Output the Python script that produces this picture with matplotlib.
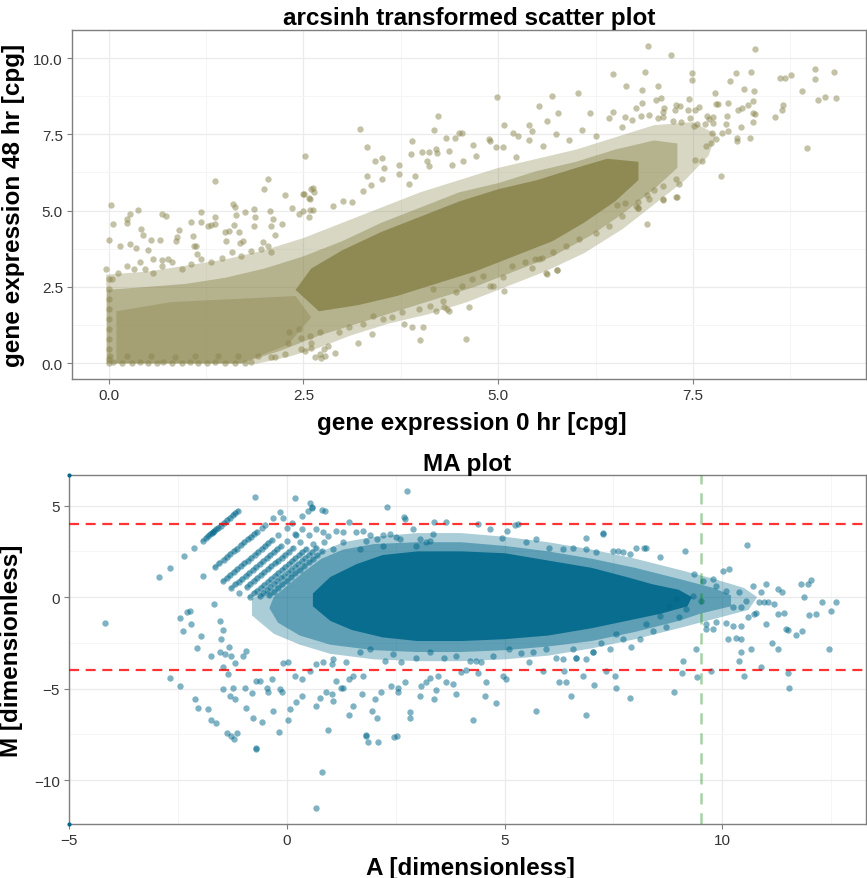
import numpy as np
import matplotlib
matplotlib.use('Agg')
import matplotlib.pyplot as plt
from matplotlib.patches import Polygon
from matplotlib.ticker import MultipleLocator, FormatStrFormatter

plt.rcParams['font.family'] = ['Liberation Sans', 'DejaVu Sans']

KHAKI4 = '#8B864E'
SKY4 = '#00688B'

# ---------------- top panel: arcsinh expression, 0 hr vs 48 hr ----------------
# outlines of the overplotted parts of the cloud (outer halo, dense band, solid core)
top_outer = [(-0.03, -0.02), (1.9, -0.02), (2.3, 0.2), (2.7, 0.5), (3.1, 0.9), (3.6, 1.3),
             (4.1, 1.6), (4.6, 2.0), (5.1, 2.5), (5.6, 3.0), (6.1, 3.6), (6.6, 4.4),
             (7.0, 5.2), (7.4, 6.0), (7.7, 6.8), (7.8, 7.5), (7.5, 7.9), (7.0, 7.8),
             (6.5, 7.4), (6.0, 7.0), (5.5, 6.7), (5.0, 6.4), (4.5, 6.0), (4.0, 5.6),
             (3.5, 5.1), (3.0, 4.6), (2.5, 4.1), (2.0, 3.7), (1.5, 3.4), (1.0, 3.2),
             (0.5, 3.0), (-0.03, 2.9)]
top_band = [(-0.02, -0.01), (1.7, -0.01), (2.2, 0.4), (2.7, 0.9), (3.2, 1.3), (3.7, 1.7),
            (4.2, 2.1), (4.7, 2.5), (5.2, 3.0), (5.7, 3.5), (6.2, 4.2), (6.6, 4.9),
            (7.0, 5.7), (7.3, 6.4), (7.3, 7.2), (7.0, 7.3), (6.5, 7.0), (6.0, 6.6),
            (5.5, 6.3), (5.0, 5.9), (4.5, 5.6), (4.0, 5.1), (3.5, 4.6), (3.0, 4.0),
            (2.5, 3.5), (2.0, 3.1), (1.5, 2.8), (1.0, 2.6), (0.5, 2.5), (-0.02, 2.4)]
top_core = [(2.7, 1.7), (3.2, 1.9), (3.7, 2.2), (4.2, 2.6), (4.7, 3.0), (5.2, 3.5),
            (5.7, 4.0), (6.1, 4.6), (6.5, 5.3), (6.8, 6.0), (6.8, 6.6), (6.4, 6.7),
            (6.0, 6.4), (5.5, 6.0), (5.0, 5.7), (4.5, 5.3), (4.0, 4.8), (3.5, 4.3),
            (3.0, 3.7), (2.6, 3.1), (2.4, 2.4)]
top_left_patch = [(0.1, 0.0), (1.7, 0.0), (2.3, 0.6), (2.6, 1.5), (2.4, 2.2),
                  (1.6, 2.1), (0.8, 2.0), (0.1, 1.7)]

# single points (x = 0 hr, y = 48 hr)
top_pts_bottom_left = [
    (0.00, 0.02), (0.06, 0.03), (0.17, 0.02), (0.30, 0.01), (0.40, 0.03), (0.51, 0.02),
    (0.62, 0.01), (0.70, 0.03), (0.81, 0.02), (0.94, 0.01), (1.04, 0.03), (1.15, 0.02),
    (1.26, 0.01), (1.36, 0.03), (1.49, 0.02), (1.62, 0.02), (1.75, 0.01), (1.83, 0.03),
    (0.02, 0.23), (0.23, 0.22), (0.55, 0.24), (0.85, 0.21), (1.11, 0.23), (1.41, 0.25),
    (1.66, 0.22), (1.92, 0.23), (2.09, 0.21), (2.13, 0.19), (2.26, 0.30), (2.52, 0.40),
    (2.65, 0.19), (2.71, 0.30), (2.77, 0.45), (2.60, 0.67), (2.47, 0.84), (2.30, 0.67),
    (0.00, 2.75), (0.01, 2.43), (0.00, 2.10), (0.01, 1.77), (0.00, 1.44), (0.01, 1.11),
    (0.00, 0.79), (0.01, 0.46), (0.00, 0.13)]
top_pts_upper_left = [
    (0.03, 5.17), (0.00, 4.03), (0.06, 4.56), (0.27, 4.89), (0.38, 5.03), (0.23, 4.72),
    (0.24, 4.59), (0.42, 4.39), (0.44, 4.20), (0.15, 3.84), (0.28, 3.89), (0.35, 3.78),
    (0.54, 4.03), (0.66, 4.03), (0.68, 4.90), (0.74, 4.82), (0.51, 3.70), (0.57, 3.42),
    (0.69, 3.39), (0.76, 3.40), (0.91, 4.38), (0.88, 4.12), (0.87, 4.02), (1.06, 4.64),
    (1.08, 4.18), (1.18, 4.97), (1.18, 4.63), (1.27, 4.50), (1.37, 5.98), (1.36, 4.80),
    (1.36, 4.56), (1.31, 4.54), (1.09, 3.84), (1.12, 3.85), (1.13, 3.57), (1.60, 5.21),
    (1.62, 5.12), (1.75, 4.97), (1.87, 5.04), (1.63, 4.85), (1.50, 4.31), (1.54, 4.33),
    (1.61, 4.52), (1.68, 4.31), (1.69, 3.95), (1.73, 4.02), (1.51, 4.00), (1.99, 5.72),
    (2.04, 6.02), (2.26, 5.52), (2.07, 4.98), (2.09, 4.48), (2.11, 4.71), (1.88, 4.78),
    (1.86, 4.48), (2.36, 5.09), (2.50, 5.56), (2.60, 5.72), (2.63, 5.62), (2.58, 5.38),
    (2.59, 5.02), (2.57, 4.80), (2.22, 4.56), (2.13, 4.20), (2.05, 3.85), (1.98, 3.98),
    (2.44, 4.90), (2.50, 4.99), (2.62, 5.02),
    (-0.03, 3.08), (0.04, 2.75), (0.12, 2.97), (0.23, 3.19), (0.32, 3.08), (0.40, 3.30),
    (0.47, 3.08), (0.57, 2.97), (0.68, 3.19), (0.81, 3.30), (0.94, 3.08), (1.06, 3.25),
    (1.19, 3.41), (1.32, 3.30), (1.45, 3.46), (1.58, 3.63), (1.70, 3.52), (1.83, 3.69),
    (1.96, 3.74), (2.09, 3.63)]
top_pts_upper_mid = [
    (3.23, 7.69), (2.52, 6.80), (4.23, 8.09), (4.17, 7.64), (4.99, 8.73), (5.69, 8.77),
    (5.52, 8.43), (5.77, 8.20), (5.63, 7.93), (5.08, 7.80), (5.19, 7.55), (5.26, 7.45),
    (5.39, 7.80), (5.43, 7.61), (3.32, 7.08), (3.42, 6.63), (3.51, 6.73), (3.54, 6.40),
    (3.90, 7.27), (3.88, 6.87), (4.02, 6.93), (4.11, 6.93), (4.21, 6.90), (4.33, 7.38),
    (4.45, 7.38), (4.50, 7.56), (4.68, 7.16), (4.90, 7.29), (4.97, 7.07), (3.73, 6.49),
    (3.73, 6.20), (3.93, 6.15), (3.86, 5.87), (4.09, 6.63), (4.11, 6.45), (4.41, 6.48),
    (4.55, 6.63), (3.32, 6.12), (3.51, 6.03), (3.37, 5.84), (3.26, 5.65), (2.62, 5.75),
    (2.57, 5.40), (2.51, 5.55), (2.88, 5.16), (3.01, 5.33), (3.13, 5.27),
    (4.20, 7.02), (4.37, 6.95), (4.54, 7.56), (4.71, 6.78), (4.88, 7.36), (5.06, 7.10),
    (5.23, 6.76), (5.40, 7.30), (5.57, 7.11), (5.74, 7.52), (5.91, 7.33), (6.08, 7.64),
    (6.25, 7.43), (6.42, 8.05), (6.59, 7.73), (6.77, 8.36), (6.94, 8.14), (7.11, 8.06),
    (7.28, 8.46), (7.45, 8.66)]
top_pts_upper_right = [
    (6.92, 10.40), (7.22, 10.10), (8.29, 10.31), (6.47, 9.49), (6.89, 9.56), (7.49, 9.50),
    (7.49, 9.28), (8.05, 9.50), (8.24, 9.54), (7.98, 9.25), (8.62, 9.36), (8.68, 9.34),
    (8.76, 9.44), (9.06, 9.63), (9.06, 9.31), (9.31, 9.53), (8.90, 8.92), (9.10, 8.62),
    (9.20, 8.72), (9.33, 8.70), (8.96, 7.04), (6.02, 8.84), (6.64, 9.07), (6.84, 8.94),
    (7.05, 9.07), (6.84, 8.52), (7.03, 8.61), (7.09, 8.69), (7.78, 8.85), (7.79, 8.49),
    (7.82, 8.49), (7.95, 8.54), (8.16, 8.98), (8.28, 8.92), (8.27, 8.59), (8.08, 8.30),
    (8.13, 8.37), (8.21, 8.45), (8.27, 8.19), (8.30, 8.16), (8.27, 7.92), (8.55, 8.06),
    (8.64, 8.31), (8.66, 8.45), (7.94, 8.10), (7.92, 7.83), (8.12, 7.74), (8.23, 7.38),
    (8.06, 7.38), (8.06, 7.29), (7.86, 6.14), (7.79, 7.34), (7.87, 7.56), (7.95, 7.62),
    (7.75, 7.56), (7.62, 6.61), (7.52, 6.67), (7.29, 5.45), (7.12, 5.36), (7.32, 5.86),
    (6.91, 4.55), (6.91, 5.52), (7.00, 5.66), (6.79, 5.28), (6.79, 5.09), (6.63, 5.24),
    (6.53, 5.18), (6.18, 8.19), (6.47, 8.22), (6.63, 8.07), (6.72, 7.97), (6.83, 8.10),
    (7.05, 8.05), (7.13, 8.38), (7.12, 8.22), (7.25, 7.93), (7.35, 7.92), (7.46, 8.05),
    (7.27, 8.31), (7.33, 8.44), (7.43, 8.31), (7.53, 8.29), (7.58, 8.39), (7.55, 7.83),
    (7.51, 7.77), (7.68, 8.10), (7.71, 7.99), (7.76, 8.06), (7.66, 7.85), (7.76, 7.88),
    (7.67, 7.11), (7.73, 7.21)]
top_pts_lower = [
    (3.20, 0.66), (3.38, 0.97), (3.79, 1.27), (4.03, 1.17), (4.00, 0.77), (2.72, 0.16),
    (2.78, 0.24), (2.90, 0.33), (2.47, 0.47), (2.60, 0.48), (4.59, 0.79), (4.62, 1.83),
    (4.34, 1.77), (4.31, 1.83), (4.90, 2.53), (5.08, 2.35), (5.63, 2.92), (5.75, 3.04),
    (5.44, 3.11), (6.80, 5.08), (7.12, 5.38), (7.28, 5.45), (5.62, 2.96), (5.76, 3.05),
    (5.47, 3.41), (5.56, 3.46), (2.32, 1.01), (2.45, 1.11), (2.58, 0.90), (2.71, 1.01),
    (2.81, 0.57), (2.96, 1.01), (3.09, 1.17), (3.26, 1.28), (3.39, 1.55), (3.52, 1.44),
    (3.64, 1.50), (3.77, 1.66), (3.90, 1.17), (3.99, 1.77), (4.12, 1.88), (4.20, 1.71),
    (4.16, 2.43), (4.29, 2.04), (4.37, 1.71), (4.46, 2.32), (4.54, 2.53), (4.67, 2.75),
    (4.80, 2.86), (4.93, 2.53), (5.06, 2.81), (5.18, 3.19), (5.35, 3.30), (5.53, 3.41),
    (5.70, 3.63), (5.87, 3.85), (6.04, 4.07), (6.25, 4.28), (6.42, 4.50), (6.59, 4.83),
    (6.77, 5.16), (6.94, 5.38), (7.11, 5.81), (7.28, 6.03)]

top_xticks = [0.0, 2.5, 5.0, 7.5]
top_yticks = [0.0, 2.5, 5.0, 7.5, 10.0]

# ---------------- bottom panel: MA plot ----------------
ma_outer = [(-0.8, -0.1), (-0.3, 0.5), (0.0, 1.0), (0.4, 1.8), (0.8, 2.5), (1.3, 3.0),
            (2.0, 3.3), (3.0, 3.5), (4.0, 3.5), (5.0, 3.3), (6.0, 3.0), (7.0, 2.6),
            (8.0, 2.1), (9.0, 1.5), (9.8, 1.0), (10.5, 0.5), (10.8, 0.0), (10.6, -0.7),
            (9.8, -1.2), (9.0, -1.7), (8.0, -2.3), (7.0, -2.8), (6.0, -3.2), (5.0, -3.4),
            (4.0, -3.5), (3.0, -3.5), (2.0, -3.4), (1.0, -3.1), (0.3, -2.6), (-0.3, -2.0),
            (-0.8, -1.0)]
ma_band = [(-0.3, 0.0), (0.0, 0.6), (0.4, 1.4), (0.8, 2.1), (1.3, 2.6), (2.0, 2.9),
           (3.0, 3.0), (4.0, 3.0), (5.0, 2.8), (6.0, 2.5), (7.0, 2.1), (8.0, 1.6),
           (9.0, 1.0), (9.8, 0.5), (10.2, 0.1), (10.2, -0.5), (9.5, -0.9), (9.0, -1.3),
           (8.0, -1.9), (7.0, -2.4), (6.0, -2.7), (5.0, -2.9), (4.0, -3.0), (3.0, -3.0),
           (2.0, -2.9), (1.0, -2.6), (0.3, -2.1), (-0.2, -1.4), (-0.4, -0.6)]
ma_core = [(0.6, 0.2), (1.0, 1.1), (1.6, 1.8), (2.2, 2.3), (3.0, 2.5), (4.0, 2.5),
           (5.0, 2.4), (6.0, 2.0), (7.0, 1.6), (7.8, 1.1), (8.4, 0.7), (9.0, 0.4),
           (9.3, 0.0), (9.2, -0.5), (8.6, -0.9), (7.8, -1.3), (7.0, -1.7), (6.0, -2.1),
           (5.0, -2.3), (4.0, -2.4), (3.0, -2.4), (2.2, -2.2), (1.5, -1.8), (1.0, -1.3),
           (0.6, -0.5)]

# low-count streaks in the upper left (A, M): runs of overlapping points
ma_streak_1 = [(-1.93, 3.09), (-1.85, 3.25), (-1.80, 3.35), (-1.76, 3.43), (-1.72, 3.51),
               (-1.69, 3.57), (-1.66, 3.63), (-1.62, 3.71), (-1.58, 3.79), (-1.52, 3.91),
               (-1.45, 4.05), (-1.38, 4.19), (-1.30, 4.35), (-1.24, 4.47), (-1.18, 4.59),
               (-1.12, 4.71)]
ma_streak_2 = [(-1.65, 1.65), (-1.55, 1.85), (-1.45, 2.05), (-1.38, 2.19), (-1.30, 2.35),
               (-1.22, 2.51), (-1.15, 2.65), (-1.06, 2.83), (-0.98, 2.99), (-0.90, 3.15),
               (-0.82, 3.31), (-0.75, 3.45), (-0.69, 3.57)]
ma_streak_3 = [(-1.46, 0.88), (-1.38, 1.04), (-1.30, 1.20), (-1.22, 1.36), (-1.14, 1.52),
               (-1.06, 1.68), (-0.98, 1.84), (-0.90, 2.00), (-0.82, 2.16), (-0.74, 2.32),
               (-0.66, 2.48), (-0.58, 2.64), (-0.50, 2.80), (-0.42, 2.96), (-0.35, 3.10)]
ma_streak_4 = [(-1.27, 0.51), (-1.18, 0.69), (-1.10, 0.85), (-1.02, 1.01), (-0.94, 1.17),
               (-0.86, 1.33), (-0.78, 1.49), (-0.70, 1.65), (-0.62, 1.81), (-0.54, 1.97),
               (-0.46, 2.13), (-0.38, 2.29), (-0.30, 2.45), (-0.22, 2.61), (-0.14, 2.77)]
ma_streak_5 = [(-0.92, 0.56), (-0.84, 0.72), (-0.76, 0.88), (-0.68, 1.04), (-0.60, 1.20),
               (-0.52, 1.36), (-0.44, 1.52), (-0.36, 1.68), (-0.28, 1.84), (-0.20, 2.00),
               (-0.12, 2.16), (-0.04, 2.32), (0.04, 2.48), (0.14, 2.68)]
ma_streak_6 = [(-0.85, 0.02), (-0.76, 0.20), (-0.68, 0.36), (-0.60, 0.52), (-0.52, 0.68),
               (-0.44, 0.84), (-0.36, 1.00), (-0.28, 1.16), (-0.20, 1.32), (-0.12, 1.48),
               (-0.04, 1.64), (0.04, 1.80), (0.12, 1.96), (0.20, 2.12), (0.28, 2.28),
               (0.36, 2.44), (0.45, 2.62)]
ma_streak_7 = [(-0.62, 0.06), (-0.54, 0.22), (-0.46, 0.38), (-0.38, 0.54), (-0.30, 0.70),
               (-0.22, 0.86), (-0.14, 1.02), (-0.06, 1.18), (0.02, 1.34), (0.10, 1.50),
               (0.18, 1.66), (0.26, 1.82), (0.34, 1.98), (0.42, 2.14), (0.50, 2.30),
               (0.58, 2.46), (0.68, 2.66)]
ma_streak_8 = [(-0.40, 0.10), (-0.30, 0.30), (-0.20, 0.50), (-0.10, 0.70), (0.00, 0.90),
               (0.10, 1.10), (0.20, 1.30), (0.30, 1.50), (0.40, 1.70), (0.50, 1.90),
               (0.60, 2.10), (0.70, 2.30), (0.80, 2.50)]

ma_pts_streak_ends = [
    (-2.94, 1.11), (-2.67, 1.60), (-2.35, 2.26), (-2.13, 2.71), (-0.73, 5.48),
    (-1.92, 1.15), (-0.58, 3.79), (-0.50, 3.95), (-0.31, 4.33), (-0.16, 4.63), (0.20, 5.39),
    (-0.20, 3.40), (0.00, 3.80), (0.12, 4.04), (0.00, 3.05), (0.20, 3.45), (0.34, 3.73),
    (-1.10, 0.20), (0.30, 3.00), (0.50, 3.40), (0.60, 2.92), (0.85, 3.00)]
ma_pts_upper = [
    (0.53, 5.17), (0.87, 4.68), (0.57, 4.86), (0.80, 4.77), (0.34, 4.44), (2.31, 4.93),
    (2.75, 5.81), (2.71, 4.26), (2.69, 4.39), (-0.08, 4.35), (0.22, 3.39), (0.49, 4.72),
    (0.59, 4.90), (0.68, 3.72), (0.83, 3.54), (0.95, 3.32), (1.14, 3.63), (1.29, 3.54),
    (1.44, 4.12), (1.60, 3.54), (1.75, 3.63), (1.90, 3.37), (2.06, 3.17), (2.21, 3.37),
    (2.36, 3.45), (2.51, 3.26), (2.90, 3.72), (3.05, 3.17), (3.20, 2.99), (3.36, 3.45),
    (1.06, 2.62), (1.29, 2.99), (1.67, 2.62), (1.83, 3.08), (2.21, 2.80), (2.59, 3.17),
    (2.97, 2.80), (3.28, 3.08), (3.39, 4.08), (3.66, 4.13), (4.39, 3.99), (4.66, 3.72),
    (4.93, 3.22), (5.06, 3.59), (5.31, 3.99), (5.23, 3.93), (7.26, 3.48), (7.60, 2.53),
    (8.02, 2.71), (8.25, 2.68), (8.56, 2.17), (9.15, 2.53), (5.50, 2.99), (5.73, 3.17),
    (6.03, 2.71), (6.34, 2.62), (6.57, 2.71), (6.87, 2.62), (7.10, 2.44), (7.48, 2.53),
    (7.71, 2.44), (10.57, 2.84), (8.21, 2.68), (7.89, 2.35), (6.86, 3.21), (7.27, 3.44)]
ma_pts_left = [
    (-4.17, -1.40), (-2.45, -1.16), (-2.28, -0.80), (-2.20, -1.48), (-1.66, -0.35),
    (-1.54, -1.29), (-1.46, -1.79), (-1.52, -2.31), (-1.33, -2.71), (-1.18, -3.62),
    (-2.67, -4.41), (-0.71, -8.32), (0.81, -9.55), (0.68, -11.55), (1.81, -7.54),
    (2.47, -7.63), (1.96, -6.21), (2.55, -5.21),
    (-2.22, -0.78), (-2.38, -1.84), (-1.96, -2.15), (-2.07, -2.80), (-1.75, -3.21),
    (-1.46, -3.84), (-1.35, -4.21), (-1.54, -3.02), (-1.42, -3.11), (-1.27, -3.24),
    (-1.00, -3.24), (-0.93, -2.93), (-0.70, -4.57), (-0.62, -4.61), (-0.35, -4.48),
    (-0.08, -3.61), (0.03, -3.57), (0.18, -4.30), (0.34, -4.48), (0.53, -4.03),
    (0.68, -3.66), (0.83, -3.57), (1.03, -3.66), (1.14, -4.57), (1.25, -4.94),
    (1.44, -4.48), (1.52, -4.30), (1.75, -4.33),
    (-2.45, -4.88), (-2.11, -5.57), (-2.03, -6.07), (-1.80, -6.12), (-1.73, -6.70),
    (-1.63, -6.90), (-1.38, -7.40), (-1.29, -7.58), (-1.21, -7.76), (-1.15, -7.43),
    (-1.46, -5.03), (-1.31, -5.39), (-1.19, -5.57), (-1.23, -4.99), (-0.96, -4.99),
    (-0.81, -5.25), (-0.94, -6.08), (-0.77, -6.63), (-0.56, -6.85), (-0.43, -5.21),
    (-0.45, -4.99), (-0.19, -7.36), (-0.70, -8.27), (-0.16, -5.03), (-0.12, -5.17),
    (-0.31, -6.21), (0.07, -6.12), (0.03, -6.70), (0.22, -5.72), (0.36, -5.43),
    (0.68, -5.97), (0.76, -5.50), (0.95, -7.25), (0.91, -5.17), (1.03, -5.30),
    (1.06, -5.66), (1.29, -4.99), (1.43, -6.45), (1.51, -5.94), (1.73, -5.30),
    (2.02, -5.57), (1.83, -7.58), (1.87, -7.91), (2.10, -7.91), (2.06, -6.58)]
ma_pts_lower = [
    (2.17, -5.21), (2.54, -7.58), (2.40, -4.88), (2.55, -4.99), (2.71, -4.66), (2.82, -6.30),
    (2.82, -6.58), (3.05, -5.39), (3.09, -4.85), (3.20, -4.66), (3.28, -4.44), (3.39, -5.57),
    (3.42, -5.08), (3.47, -4.30), (3.66, -4.66), (3.82, -4.75), (3.89, -5.30), (4.01, -4.08),
    (4.12, -3.99), (4.27, -6.72), (4.35, -3.50), (4.39, -4.12), (4.56, -5.43), (4.58, -4.66),
    (4.81, -5.79), (4.96, -4.30), (5.04, -4.48), (5.73, -6.21), (6.26, -4.66), (6.41, -4.66),
    (6.53, -5.43), (6.87, -6.45), (7.06, -4.81), (6.80, -4.30), (7.33, -4.03), (6.37, -4.03),
    (5.88, -4.03), (5.38, -3.06), (5.65, -3.02), (6.18, -3.30),
    (1.06, -3.39), (1.37, -3.57), (1.67, -3.02), (1.90, -2.84), (2.25, -3.48), (2.44, -3.11),
    (2.63, -3.57), (2.97, -3.30), (3.28, -3.02), (3.62, -3.30), (3.89, -3.21), (4.20, -3.48),
    (4.47, -3.57), (4.73, -3.21), (5.11, -2.84), (5.57, -3.57), (5.95, -2.84), (6.34, -3.39),
    (6.64, -3.30), (7.02, -3.02),
    (7.55, -4.99), (7.89, -5.54), (8.90, -5.20), (9.07, -4.12), (9.09, -3.48), (7.53, -4.30)]
ma_pts_right = [
    (9.36, 1.26), (9.55, 0.89), (9.78, 0.98), (10.01, 1.44), (10.16, 1.53), (9.85, 0.62),
    (10.08, 0.35), (10.39, 0.26), (10.70, 0.62), (10.89, 0.26), (11.00, 0.71), (11.27, 0.47),
    (11.38, 0.26), (11.80, 0.71), (11.96, 0.71), (12.03, 0.95), (11.88, -0.02), (12.30, -0.29),
    (12.61, -0.26), (10.85, -0.29), (10.96, -0.29), (11.06, -0.29), (11.19, -0.38),
    (10.24, -0.56), (10.43, -0.56), (10.54, -0.20), (10.58, -1.11), (10.73, -0.93),
    (10.77, -0.89), (11.00, -1.48), (11.27, -0.93), (11.42, -0.87), (11.46, -1.75),
    (11.50, -1.79), (11.69, -2.08), (11.84, -1.84), (12.00, -0.98), (12.15, -0.93),
    (12.49, -0.78), (10.24, -1.57), (10.43, -1.57), (10.08, -1.44), (9.85, -1.38),
    (9.63, -1.75), (9.78, -1.75), (10.12, -2.30), (10.31, -2.26), (10.43, -2.30),
    (10.43, -2.99), (10.39, -3.48), (10.66, -2.84), (10.89, -3.84), (11.13, -2.53),
    (11.27, -2.84), (11.50, -4.12), (11.52, -4.99), (12.44, -2.84), (10.50, -4.33),
    (9.74, -4.03), (9.43, -4.39), (9.40, -2.84), (9.63, -1.48), (9.51, -0.20), (9.32, 0.07),
    (9.17, -0.66), (9.01, -1.11), (8.78, -0.47), (8.94, -0.11), (8.56, -1.02), (8.71, -1.66),
    (8.40, -1.84), (8.25, -1.48), (8.10, -2.30), (7.91, -2.70), (7.71, -2.30), (7.56, -2.02),
    (7.41, -2.84), (7.22, -2.48), (7.03, -3.02), (6.87, -3.39), (6.64, -3.30), (6.57, -2.84)]

ma_corner_A = [-5.0, -5.0]
ma_corner_M = [6.67, -12.4]
m_cutoffs = [4, -4]
a_cutoff = 9.52
ma_xticks = [-5, 0, 5, 10]
ma_yticks = [-10, -5, 0, 5]


def style(ax):
    for s in ax.spines.values():
        s.set_color('#7F7F7F')
        s.set_linewidth(1.0)
    ax.grid(which='major', color='#EBEBEB', lw=0.9)
    ax.grid(which='minor', color='#F4F4F4', lw=0.6)
    ax.set_axisbelow(True)
    ax.tick_params(which='major', length=3.5, width=0.8, color='#7F7F7F',
                   labelsize=11, labelcolor='#333333', pad=3)
    ax.tick_params(which='minor', length=0)


def add_cloud(ax, layers, color):
    # overplotted regions, from the faint halo to the solid core
    for poly, a in layers:
        ax.add_patch(Polygon(poly, closed=True, fc=color, ec='none', alpha=a,
                             joinstyle='round', zorder=2))


def scatter_pts(ax, groups, color):
    pts = np.array([p for g in groups for p in g])
    ax.scatter(pts[:, 0], pts[:, 1], s=21, c=color, alpha=0.5,
               linewidths=0, zorder=3)


fig = plt.figure(figsize=(8.67, 8.79), dpi=100)

# top panel
ax1 = fig.add_axes([0.0830, 0.5677, 0.9158, 0.3970])
style(ax1)
add_cloud(ax1, [(top_outer, 0.33), (top_band, 0.45), (top_left_patch, 0.4),
                (top_core, 0.9)], KHAKI4)
scatter_pts(ax1, [top_pts_bottom_left, top_pts_upper_left, top_pts_upper_mid,
                  top_pts_upper_right, top_pts_lower], KHAKI4)
ax1.set_xlim(-0.47, 9.72)
ax1.set_ylim(-0.52, 10.92)
ax1.set_xticks(top_xticks)
ax1.set_yticks(top_yticks)
ax1.xaxis.set_minor_locator(MultipleLocator(1.25))
ax1.yaxis.set_minor_locator(MultipleLocator(1.25))
ax1.xaxis.set_major_formatter(FormatStrFormatter('%.1f'))
ax1.yaxis.set_major_formatter(FormatStrFormatter('%.1f'))
ax1.text(0.5, 1.037, 'arcsinh transformed scatter plot', transform=ax1.transAxes,
         ha='center', va='center', fontsize=17.5, fontweight='bold')
ax1.set_xlabel('gene expression 0 hr [cpg]', fontsize=17.5, fontweight='bold')
ax1.set_ylabel('gene expression 48 hr [cpg]', fontsize=17.5, fontweight='bold')
ax1.xaxis.set_label_coords(0.504, -0.092)
ax1.yaxis.set_label_coords(-0.059, 0.5)

# bottom panel
ax2 = fig.add_axes([0.0796, 0.0614, 0.9193, 0.3970])
style(ax2)
add_cloud(ax2, [(ma_outer, 0.33), (ma_band, 0.45), (ma_core, 0.9)], SKY4)
for streak in [ma_streak_1, ma_streak_2, ma_streak_3, ma_streak_4,
               ma_streak_5, ma_streak_6, ma_streak_7, ma_streak_8]:
    s = np.array(streak)
    ax2.plot(s[:, 0], s[:, 1], color=SKY4, lw=3.2, alpha=0.3,
             solid_capstyle='round', zorder=3)
scatter_pts(ax2, [ma_streak_1, ma_streak_2, ma_streak_3, ma_streak_4, ma_streak_5,
                  ma_streak_6, ma_streak_7, ma_streak_8, ma_pts_streak_ends,
                  ma_pts_upper, ma_pts_left, ma_pts_lower, ma_pts_right], SKY4)
ax2.scatter(ma_corner_A, ma_corner_M, s=4, c=SKY4, clip_on=False, zorder=5)
for m in m_cutoffs:
    ax2.axhline(m, color='red', alpha=0.8, lw=1.6, ls=(0, (4.5, 3)), zorder=4)
ax2.axvline(a_cutoff, color='green', alpha=0.35, lw=1.8, ls=(0, (4.5, 3.5)), zorder=4)
ax2.set_xlim(-5, 13.3)
ax2.set_ylim(-12.4, 6.67)
ax2.set_xticks(ma_xticks)
ax2.set_yticks(ma_yticks)
ax2.xaxis.set_minor_locator(MultipleLocator(2.5))
ax2.yaxis.set_minor_locator(MultipleLocator(2.5))
ax2.text(0.5, 1.032, 'MA plot', transform=ax2.transAxes,
         ha='center', va='center', fontsize=17.5, fontweight='bold')
ax2.set_xlabel('A [dimensionless]', fontsize=17.5, fontweight='bold')
ax2.set_ylabel('M [dimensionless]', fontsize=17.5, fontweight='bold')
ax2.xaxis.set_label_coords(0.504, -0.092)
ax2.yaxis.set_label_coords(-0.058, 0.5)

fig.savefig('out.png', dpi=100)
